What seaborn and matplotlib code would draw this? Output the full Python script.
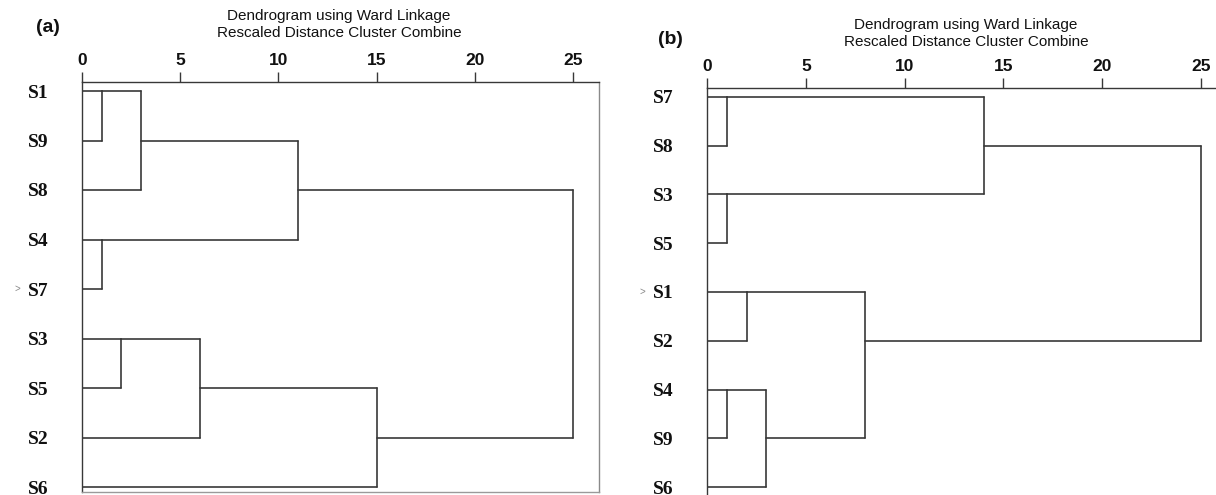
import math
import numpy as np
import pandas as pd
import matplotlib
matplotlib.use("Agg")
import matplotlib.pyplot as plt
import matplotlib.transforms as mtransforms
import seaborn as sns

# ---------------- data ----------------
leaves_a = ["S1", "S9", "S8", "S4", "S7", "S3", "S5", "S2", "S6"]
# (left cluster, right cluster, rescaled distance); leaves are 0..8, new clusters numbered from 9
merges_a = [(0, 1, 1), (3, 4, 1), (5, 6, 2), (9, 2, 3), (11, 7, 6),
            (12, 10, 11), (13, 8, 15), (14, 15, 25)]

leaves_b = ["S7", "S8", "S3", "S5", "S1", "S2", "S4", "S9", "S6"]
merges_b = [(0, 1, 1), (2, 3, 1), (6, 7, 1), (4, 5, 2), (11, 8, 3),
            (12, 13, 8), (9, 10, 14), (15, 14, 25)]

x_ticks = [0, 5, 10, 15, 20, 25]
title_1 = "Dendrogram using Ward Linkage"
title_2 = "Rescaled Distance Cluster Combine"
marker_row = 4

# ---------------- helpers ----------------
def segments(leaves, merges):
    pos = {i: i for i in range(len(leaves))}
    hgt = {i: 0 for i in range(len(leaves))}
    rows = []
    seg = 0
    nid = len(leaves)
    for a, b, d in merges:
        for c in (a, b):
            rows.append((seg, hgt[c], pos[c])); rows.append((seg, d, pos[c])); seg += 1
        rows.append((seg, d, pos[a])); rows.append((seg, d, pos[b])); seg += 1
        pos[nid] = math.floor((pos[a] + pos[b]) / 2)
        hgt[nid] = d
        nid += 1
    return pd.DataFrame(rows, columns=["seg", "dist", "row"])

sns.set_theme(style="white")
plt.rcParams["font.family"] = ["Liberation Sans", "DejaVu Sans"]

W, H = 1216, 495
fig = plt.figure(figsize=(W / 100, H / 100), dpi=100)

LINE = "#383838"

def px_ax(l, t, r, b):
    return fig.add_axes([l / W, 1 - b / H, (r - l) / W, (b - t) / H])

def draw(ax, leaves, merges, xmax, ylims, show_right, show_bottom, marker_dx):
    df = segments(leaves, merges)
    sns.lineplot(data=df, x="dist", y="row", units="seg", estimator=None,
                 sort=False, color=LINE, linewidth=1.2, ax=ax, legend=False)
    ax.set_xlim(0, xmax)
    ax.set_ylim(*ylims)
    ax.xaxis.tick_top()
    ax.set_xticks(x_ticks)
    ax.set_xticklabels([str(t) for t in x_ticks], fontsize=12.5, fontweight="bold",
                       color="#111111")
    ax.tick_params(axis="x", direction="out", length=7, width=1.0, color=LINE, pad=3,
                   top=True, bottom=False)
    ax.set_yticks(range(len(leaves)))
    ax.set_yticklabels(leaves, fontfamily="Liberation Serif", fontweight="bold",
                       fontsize=14, color="#111111")
    ax.tick_params(axis="y", length=0, pad=24)
    ax.set_xlabel(""); ax.set_ylabel("")
    for s in ax.spines.values():
        s.set_linewidth(1.0)
    ax.spines["top"].set_color(LINE)
    ax.spines["left"].set_color(LINE)
    ax.spines["right"].set_color("#8a8a8a")
    ax.spines["bottom"].set_color("#9a9a9a")
    ax.spines["right"].set_visible(show_right)
    ax.spines["bottom"].set_visible(show_bottom)
    ax.grid(False)
    tr = ax.get_yaxis_transform() + mtransforms.ScaledTranslation(marker_dx / 100, 0, fig.dpi_scale_trans)
    ax.text(0, marker_row, ">", transform=tr,
            fontsize=7, color="#888888", ha="center", va="center")

# panel (a)
ax_a = px_ax(82, 82, 599, 492)
draw(ax_a, leaves_a, merges_a, 517 / 19.64, (8 + 5 / 49.5, -9 / 49.5), True, True, -65)
# panel (b)
ax_b = px_ax(707, 88, 1216, 495)
draw(ax_b, leaves_b, merges_b, 509 / 19.76, (8 + 8 / 48.75, -9 / 48.75), False, False, -65)

def ftext(x, y, s, **kw):
    fig.text(x / W, 1 - y / H, s, ha="center", va="center", **kw)

ftext(339, 16, title_1, fontsize=11, color="#111111")
ftext(339, 33, title_2, fontsize=11, color="#111111")
ftext(48, 28, "(a)", fontsize=14, fontweight="bold", color="#111111")
ftext(966, 25, title_1, fontsize=11, color="#111111")
ftext(966, 42, title_2, fontsize=11, color="#111111")
ftext(670, 39, "(b)", fontsize=14, fontweight="bold", color="#111111")

fig.savefig("out.png", dpi=100, facecolor="white")
